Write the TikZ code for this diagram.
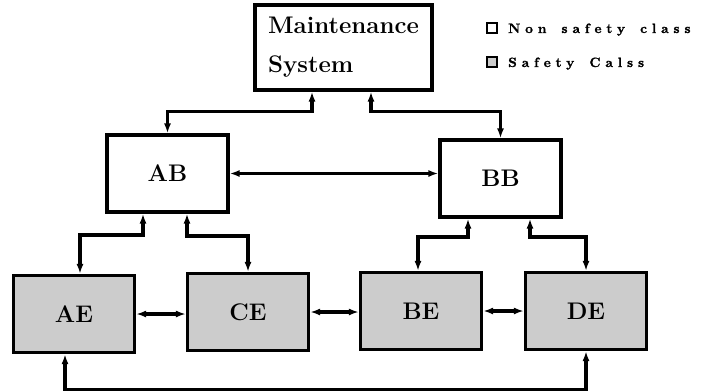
\documentclass[tikz,border=0pt]{standalone}
\usepackage{fontspec}
\usetikzlibrary{arrows.meta}
\newfontfamily\legendfont[Extension=.otf, LetterSpace=36, WordSpace=1.5, FakeBold=1.2]{lmroman10-bold}
\tikzset{
  nsbox/.style={draw, line width=3.1pt, minimum width=121pt, minimum height=77pt,
    inner sep=0pt, font=\fontsize{24}{28}\selectfont\bfseries},
  sbox/.style={nsbox, fill=black!20},
  link/.style={line width=3.3pt, {Latex[length=10pt,width=7pt]}-{Latex[length=10pt,width=7pt]}},
  legtext/.style={anchor=base west, inner sep=0pt, font=\legendfont\fontsize{13.5}{15}\selectfont},
}
\begin{document}
\begin{tikzpicture}[x=1pt, y=-1pt]
    \useasboundingbox (0,0) rectangle (710,391);
    % top level
    \node[nsbox, minimum width=177pt, minimum height=85pt, align=left,
      font=\fontsize{24}{39}\selectfont\bfseries] (MS) at (343.5,47.5) {Maintenance\\System};
    \node[nsbox] (AB) at (167.5,173.5) {AB};
    \node[nsbox] (BB) at (500.5,178.5) {BB};
    % safety class row
    \node[sbox] (AE) at (74,314) {AE};
    \node[sbox] (CE) at (248,312) {CE};
    \node[sbox] (BE) at (421,311) {BE};
    \node[sbox] (DE) at (586,311) {DE};
    % legend
    \node[draw, line width=1.6pt, minimum size=10pt, inner sep=0pt] (L1) at (492,28) {};
    \node[draw, line width=1.6pt, minimum size=10pt, inner sep=0pt, fill=black!20] (L2) at (492,62) {};
    \node[legtext] (T1) at (508,33) {Non safety class};
    \node[legtext] (T2) at (508,67) {Safety Calss};
    % links
    \draw[link] (AB.north) -- ++(0,-22) -| ([xshift=-31.5pt]MS.south);
    \draw[link] (BB.north) -- ++(0,-27) -| ([xshift=27.5pt]MS.south);
    \draw[link] (AB.east) -- (AB.east -| BB.west);
    \draw[link] ([xshift=6pt]AE.north) -- ++(0,-39) -| ([xshift=-24.5pt]AB.south);
    \draw[link] (CE.north) -- ++(0,-36) -| ([xshift=19.5pt]AB.south);
    \draw[link] ([xshift=-3pt]BE.north) -- ++(0,-34) -| ([xshift=-32.5pt]BB.south);
    \draw[link] (DE.north) -- ++(0,-34) -| ([xshift=29.5pt]BB.south);
    \draw[link] (AE.east) -- (AE.east -| CE.west);
    \draw[link] (CE.east) -- (CE.east -| BE.west);
    \draw[link] (BE.east) -- (BE.east -| DE.west);
    \draw[link] ([xshift=-9pt]AE.south) -- ++(0,36) -| (DE.south);
\end{tikzpicture}
\end{document}
